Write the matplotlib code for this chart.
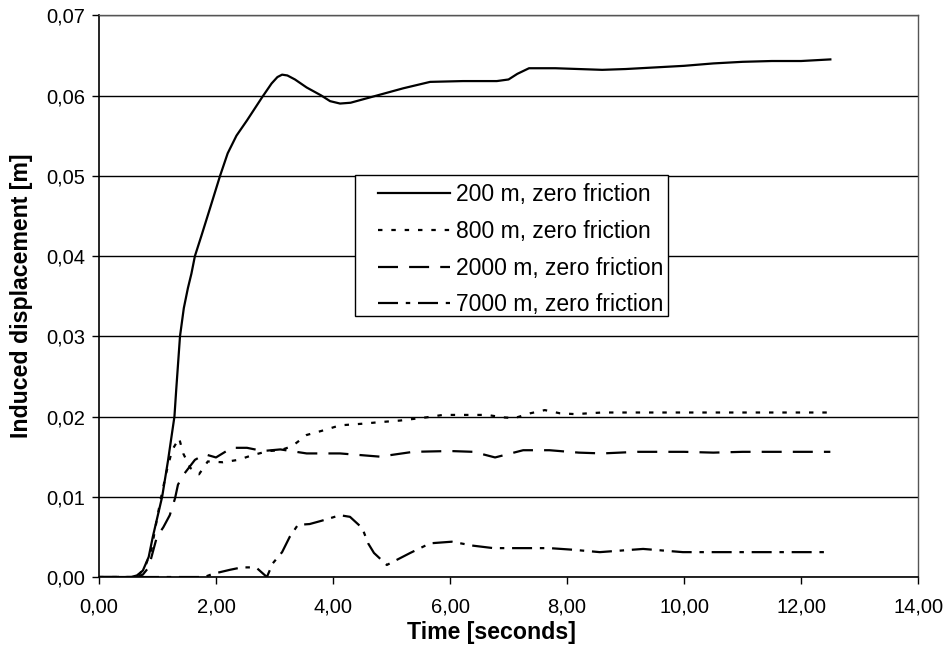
import matplotlib
matplotlib.use('Agg')
import matplotlib.pyplot as plt
from matplotlib.patches import Rectangle
from matplotlib.ticker import FuncFormatter

plt.rcParams['font.family'] = ['Liberation Sans', 'DejaVu Sans']

# 200 m, zero friction
t200 = [0, 0.55, 0.65, 0.75, 0.85, 0.92, 1.0, 1.08, 1.18, 1.29, 1.32, 1.385, 1.45,
        1.52, 1.58, 1.64, 1.75, 1.9, 2.07, 2.2, 2.35, 2.53, 2.79, 2.95, 3.05, 3.13,
        3.22, 3.35, 3.55, 3.8, 3.95, 4.12, 4.3, 4.5, 4.8, 5.2, 5.66, 6.22, 6.8,
        7.0, 7.15, 7.35, 7.8, 8.2, 8.6, 9.0, 9.5, 10.0, 10.5, 11.0, 11.5, 12.0, 12.5]
d200 = [0, 0, 0.0002, 0.0008, 0.0025, 0.005, 0.0075, 0.010, 0.0145, 0.020, 0.0233,
        0.030, 0.0335, 0.036, 0.0378, 0.040, 0.0425, 0.046, 0.050, 0.0528, 0.055,
        0.0569, 0.0598, 0.0615, 0.0623, 0.0626, 0.0625, 0.0620, 0.0610, 0.0600,
        0.0593, 0.0590, 0.0591, 0.0595, 0.0601, 0.0609, 0.0617, 0.0618, 0.0618,
        0.0620, 0.0627, 0.0634, 0.0634, 0.0633, 0.0632, 0.0633, 0.0635, 0.0637,
        0.0640, 0.0642, 0.0643, 0.0643, 0.0645]

# 800 m, zero friction
t800 = [0, 0.6, 0.7, 0.8, 0.9, 0.96, 1.05, 1.15, 1.25, 1.37, 1.44, 1.56, 1.71, 1.86,
        2.12, 2.38, 2.63, 2.9, 3.1, 3.3, 3.55, 3.8, 4.12, 4.5, 4.8, 5.15, 5.6, 5.88,
        6.3, 6.63, 6.9, 7.1, 7.37, 7.62, 7.88, 8.14, 8.6, 9.0, 9.5, 10.0, 10.5,
        11.0, 11.5, 12.0, 12.5]
d800 = [0, 0, 0.0004, 0.0015, 0.0035, 0.006, 0.0095, 0.013, 0.0158, 0.0173, 0.0154,
        0.0136, 0.0128, 0.0144, 0.0143, 0.0146, 0.0152, 0.0157, 0.0158, 0.0163,
        0.0177, 0.0182, 0.0189, 0.0191, 0.0193, 0.0195, 0.0199, 0.0202, 0.0202,
        0.0202, 0.0199, 0.0198, 0.0204, 0.0208, 0.0204, 0.0203, 0.0205, 0.0205,
        0.0205, 0.0205, 0.0205, 0.0205, 0.0205, 0.0205, 0.0205]

# 2000 m, zero friction
t2000 = [0, 0.65, 0.75, 0.85, 0.99, 1.1, 1.21, 1.3, 1.35, 1.44, 1.64, 1.81, 2.0,
         2.27, 2.53, 2.8, 3.1, 3.55, 4.12, 4.8, 5.37, 6.0, 6.4, 6.77, 7.25, 7.7,
         8.2, 8.6, 9.2, 10.0, 10.5, 11.0, 11.5, 12.0, 12.5]
d2000 = [0, 0, 0.0003, 0.0012, 0.005, 0.0062, 0.0077, 0.0098, 0.0115, 0.0127, 0.0146,
         0.0153, 0.0149, 0.0161, 0.0161, 0.0157, 0.0159, 0.0154, 0.0154, 0.0150,
         0.0156, 0.0157, 0.0156, 0.0149, 0.0158, 0.0158, 0.0155, 0.0154, 0.0156,
         0.0156, 0.0155, 0.0156, 0.0156, 0.0156, 0.0156]

# 7000 m, zero friction
t7000 = [0, 1.8, 1.95, 2.24, 2.44, 2.63, 2.7, 2.87, 2.97, 3.13, 3.26, 3.4, 3.6,
         3.8, 4.12, 4.29, 4.5, 4.6, 4.7, 4.92, 5.32, 5.66, 6.03, 6.4, 6.74, 7.2,
         7.7, 8.1, 8.56, 9.3, 9.98, 10.5, 11.0, 11.5, 12.0, 12.5]
d7000 = [0, 0, 0.0004, 0.0009, 0.0012, 0.0012, 0.0011, 0.0, 0.0017, 0.0031, 0.005,
         0.0065, 0.0066, 0.0070, 0.0077, 0.0075, 0.0061, 0.0042, 0.003, 0.0015,
         0.003, 0.0042, 0.0044, 0.0039, 0.0036, 0.0036, 0.0036, 0.0034, 0.0031,
         0.0035, 0.0031, 0.0031, 0.0031, 0.0031, 0.0031, 0.0031]

labels = ['200 m, zero friction', '800 m, zero friction',
          '2000 m, zero friction', '7000 m, zero friction']

fig = plt.figure(figsize=(9.47, 6.64), dpi=100)
ax = fig.add_axes([0.1045, 0.131, 0.865, 0.846])

lw = 1.6
ax.plot(t200, d200, color='black', lw=lw, label=labels[0])
ax.plot(t800, d800, color='black', lw=lw, dashes=(2, 4), label=labels[1])
ax.plot(t2000, d2000, color='black', lw=lw, dashes=(9, 5), label=labels[2])
ax.plot(t7000, d7000, color='black', lw=lw, dashes=(9, 3.5, 2, 3.5), label=labels[3])

ax.set_xlim(0, 14)
ax.set_ylim(0, 0.07)
ax.set_xticks(range(0, 15, 2))
ax.set_yticks([i * 0.01 for i in range(8)])
fmt = FuncFormatter(lambda v, p: f'{v:.2f}'.replace('.', ','))
ax.xaxis.set_major_formatter(fmt)
ax.yaxis.set_major_formatter(fmt)
ax.tick_params(direction='out', length=5, width=1, labelsize=14.5, color='black')
ax.tick_params(axis='x', pad=9.5)
ax.tick_params(axis='y', pad=5)
ax.grid(axis='y', color='black', lw=1)
ax.set_axisbelow(True)

for s in ['left', 'bottom']:
    ax.spines[s].set_color('black')
    ax.spines[s].set_linewidth(1.2)
for s in ['top', 'right']:
    ax.spines[s].set_color('#555555')
    ax.spines[s].set_linewidth(1)

ax.set_xlabel('Time [seconds]', fontsize=16.7, fontweight='bold')
ax.set_ylabel('Induced displacement [m]', fontsize=16.7, fontweight='bold')
ax.xaxis.set_label_coords(0.479, -0.079)
ax.yaxis.set_label_coords(-0.081, 0.5)

# legend box drawn separately: text sits close to the right edge
ax.add_patch(Rectangle((0.3126, 0.4644), 0.3821, 0.2509, transform=ax.transAxes,
                       facecolor='white', edgecolor='black', lw=1, zorder=4))
leg = ax.legend(loc='center left', bbox_to_anchor=(0.3407, 0.5827), borderaxespad=0,
                borderpad=0, fontsize=16.5, handlelength=3.15, handletextpad=0.27,
                labelspacing=0.6, frameon=False)
leg.set_zorder(5)

fig.savefig('out.png', dpi=100)
